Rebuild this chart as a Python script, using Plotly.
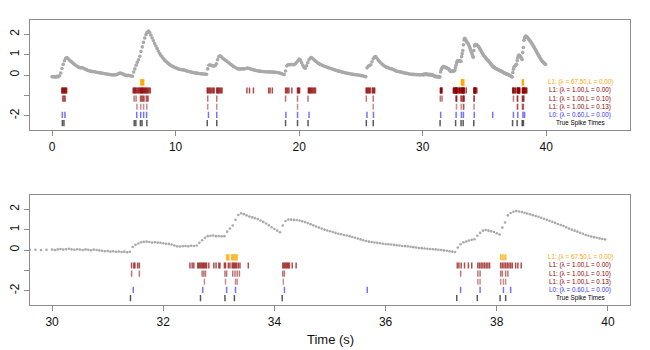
"""
Calcium trace with inferred spike rasters (full record and 30-40 s zoom).
"""
# Imports.
import plotly.graph_objects as go

# Data.
# Fluorescence trace, 0.0 - 29.9 s, one value every 0.1 s.
trace_slow = [
    -0.08, -0.10, -0.07, -0.11, -0.06, -0.09, -0.04, 0.10, 0.32, 0.52,
    0.70, 0.82, 0.86, 0.80, 0.74, 0.68, 0.63, 0.58, 0.53, 0.48,
    0.44, 0.40, 0.37, 0.35, 0.36, 0.34, 0.31, 0.28, 0.25, 0.22,
    0.21, 0.19, 0.18, 0.16, 0.17, 0.15, 0.13, 0.12, 0.11, 0.10,
    0.10, 0.08, 0.07, 0.06, 0.05, 0.04, 0.03, 0.02, 0.01, 0.00,
    0.01, 0.00, 0.02, 0.04, 0.07, 0.10, 0.08, 0.05, 0.03, 0.00,
    -0.02, -0.03, -0.02, -0.04, -0.05, -0.06, 0.15, 0.30, 0.48, 0.62,
    0.75, 0.92, 1.15, 1.38, 1.60, 1.82, 1.98, 2.10, 2.16, 2.08,
    1.95, 1.82, 1.68, 1.55, 1.42, 1.30, 1.18, 1.07, 0.97, 0.89,
    0.81, 0.74, 0.68, 0.62, 0.57, 0.52, 0.48, 0.44, 0.41, 0.38,
    0.35, 0.33, 0.30, 0.28, 0.27, 0.26, 0.25, 0.24, 0.22, 0.20,
    0.18, 0.17, 0.15, 0.14, 0.12, 0.11, 0.10, 0.09, 0.08, 0.07,
    0.06, 0.06, 0.05, 0.05, 0.04, 0.04, 0.30, 0.48, 0.50, 0.47,
    0.45, 0.44, 0.46, 0.55, 0.75, 0.90, 0.94, 0.89, 0.83, 0.78,
    0.74, 0.70, 0.65, 0.60, 0.55, 0.50, 0.46, 0.42, 0.38, 0.34,
    0.31, 0.30, 0.29, 0.30, 0.31, 0.30, 0.31, 0.32, 0.34, 0.33,
    0.31, 0.29, 0.27, 0.25, 0.24, 0.22, 0.21, 0.20, 0.19, 0.18,
    0.17, 0.17, 0.16, 0.16, 0.15, 0.15, 0.16, 0.15, 0.14, 0.14,
    0.13, 0.13, 0.12, 0.11, 0.10, 0.08, 0.06, 0.04, 0.02, 0.20,
    0.45, 0.50, 0.51, 0.50, 0.52, 0.50, 0.51, 0.55, 0.62, 0.70,
    0.78, 0.72, 0.60, 0.48, 0.37, 0.33, 0.45, 0.60, 0.75, 0.83,
    0.86, 0.81, 0.75, 0.70, 0.65, 0.60, 0.56, 0.52, 0.50, 0.47,
    0.44, 0.42, 0.40, 0.37, 0.35, 0.33, 0.31, 0.29, 0.27, 0.25,
    0.22, 0.21, 0.19, 0.18, 0.16, 0.14, 0.13, 0.11, 0.10, 0.08,
    0.07, 0.06, 0.05, 0.04, 0.03, 0.02, 0.01, 0.00, 0.00, -0.01,
    -0.03, -0.04, -0.05, -0.07, -0.08, 0.35, 0.44, 0.47, 0.50, 0.65,
    0.80, 0.88, 0.90, 0.82, 0.74, 0.67, 0.60, 0.54, 0.49, 0.44,
    0.40, 0.38, 0.36, 0.33, 0.31, 0.30, 0.27, 0.24, 0.21, 0.19,
    0.17, 0.16, 0.15, 0.14, 0.12, 0.10, 0.09, 0.08, 0.07, 0.05,
    0.04, 0.04, 0.03, 0.03, 0.02, 0.02, 0.01, 0.01, 0.00, 0.01,
]

# Fluorescence trace, 30.00 - 39.95 s, one value every 0.05 s.
trace_fast = [
    0.02, 0.00, 0.03, 0.05, 0.02, 0.04, 0.06, 0.03, 0.01, 0.04,
    0.02, 0.00, 0.03, 0.01, -0.01, 0.02, 0.00, -0.02, -0.04, -0.06,
    -0.05, -0.08, -0.06, -0.09, -0.07, -0.10, -0.08, -0.11, -0.09, 0.15,
    0.25, 0.32, 0.38, 0.40, 0.41, 0.39, 0.37, 0.38, 0.36, 0.35,
    0.33, 0.31, 0.30, 0.27, 0.22, 0.18, 0.17, 0.19, 0.20, 0.18,
    0.21, 0.20, 0.22, 0.35, 0.48, 0.60, 0.68, 0.70, 0.71, 0.68,
    0.69, 0.67, 0.68, 0.90, 1.05, 1.20, 1.48, 1.72, 1.80, 1.76,
    1.70, 1.64, 1.60, 1.56, 1.52, 1.45, 1.38, 1.30, 1.21, 1.12,
    1.03, 0.95, 0.87, 1.20, 1.42, 1.50, 1.49, 1.48, 1.47, 1.45,
    1.41, 1.37, 1.32, 1.27, 1.21, 1.15, 1.10, 1.05, 1.00, 0.96,
    0.92, 0.88, 0.84, 0.80, 0.77, 0.74, 0.71, 0.68, 0.64, 0.60,
    0.56, 0.52, 0.48, 0.44, 0.41, 0.39, 0.37, 0.35, 0.33, 0.31,
    0.29, 0.28, 0.27, 0.25, 0.23, 0.22, 0.20, 0.19, 0.18, 0.16,
    0.14, 0.12, 0.10, 0.09, 0.07, 0.06, 0.05, 0.04, 0.03, 0.01,
    0.00, -0.02, -0.04, -0.06, -0.08, -0.10, 0.12, 0.28, 0.38, 0.42,
    0.47, 0.50, 0.53, 0.70, 0.84, 0.95, 0.98, 0.95, 0.92, 0.88,
    0.82, 0.76, 1.10, 1.35, 1.70, 1.82, 1.88, 1.91, 1.89, 1.86,
    1.83, 1.79, 1.75, 1.71, 1.67, 1.63, 1.58, 1.53, 1.48, 1.43,
    1.38, 1.33, 1.28, 1.23, 1.18, 1.12, 1.05, 1.00, 0.95, 0.90,
    0.85, 0.80, 0.74, 0.70, 0.66, 0.63, 0.60, 0.57, 0.54, 0.52,
]

# Estimated spike times (s).
spikes_l1_lam67 = [7.18, 7.22, 7.26, 7.30, 7.34, 7.38, 7.42,
                   33.14, 33.16, 33.18, 33.23, 33.25, 33.27, 33.29, 33.31, 33.33,
                   38.07, 38.10, 38.13, 38.16]
spikes_l1_l000 = [0.78, 0.83, 0.88, 0.93, 0.98, 1.03, 1.08, 1.13, 1.18,
                  6.56, 6.62, 6.68, 6.74, 6.80, 6.88, 6.95, 7.02, 7.10, 7.15, 7.20, 7.25,
                  7.30, 7.35, 7.40, 7.46, 7.52, 7.58, 7.64, 7.70, 7.78, 7.86, 7.95,
                  12.56, 12.62, 12.70, 12.78, 12.86, 12.95, 13.05, 13.12,
                  13.32, 13.38, 13.45, 13.52, 13.60, 13.68, 13.76,
                  15.77, 15.98, 16.30, 17.53, 17.65, 17.83,
                  18.90, 18.98, 19.08, 19.18, 19.41, 19.86, 19.92, 19.98, 20.04,
                  20.74, 20.80, 20.86, 20.93, 21.00, 21.08, 21.16, 21.25, 21.33,
                  25.42, 25.48, 25.55, 25.62, 25.70, 25.76, 25.92, 25.98, 26.05, 26.12,
                  31.43, 31.47, 31.49, 31.54, 31.57,
                  32.48, 32.52, 32.55, 32.62, 32.64, 32.66, 32.68, 32.70, 32.72, 32.74,
                  32.76, 32.78, 32.82, 32.91, 32.95, 33.00, 33.02, 33.10, 33.12, 33.17,
                  33.20, 33.24, 33.26, 33.28, 33.30, 33.32, 33.35, 33.38, 33.53,
                  34.15, 34.17, 34.19, 34.21, 34.23, 34.25, 34.27, 34.32, 34.39,
                  37.29, 37.32, 37.36, 37.42, 37.49, 37.55, 37.66, 37.69, 37.72, 37.75,
                  37.78, 37.81, 37.84, 37.87,
                  38.07, 38.10, 38.13, 38.16, 38.19, 38.22, 38.25, 38.28, 38.34, 38.38, 38.44]
spikes_l1_l010 = [0.85, 0.92, 1.00, 1.07, 6.64, 6.80, 7.15, 7.22, 7.30, 7.38, 7.45,
                  7.62, 7.70, 7.78, 12.60, 13.33, 18.90, 19.87, 20.72, 25.44, 26.00,
                  31.43, 31.57, 32.70, 32.73, 32.76, 33.11, 33.14, 33.25, 33.29, 33.33,
                  33.37, 34.15, 34.18, 37.35, 37.66, 37.70, 38.07, 38.10, 38.16, 38.20]
spikes_l1_l013 = [6.87, 7.18, 7.41, 7.67, 12.60, 13.33, 19.87, 26.00, 32.74, 33.12,
                  33.30, 33.33, 34.16, 37.66, 37.70, 38.07, 38.12, 38.16]
spikes_l0 = [0.83, 1.04, 6.85, 7.17, 7.41, 7.65, 12.66, 13.33, 18.93, 19.87, 20.80,
             25.49, 26.02, 31.46, 32.71, 33.14, 33.30, 34.18, 35.67, 37.35, 37.70,
             38.12, 38.25]
spikes_true = [0.83, 0.96, 6.65, 6.78, 7.15, 7.28, 7.67, 12.56, 13.33, 18.90, 19.87,
               20.72, 25.44, 26.00, 31.41, 32.67, 33.11, 33.28, 34.14, 37.28, 37.65,
               38.06, 38.16]

row_labels = ['L1: (\u03bb = 67.50,L = 0.00)', 'L1: (\u03bb = 1.00,L = 0.00)',
              'L1: (\u03bb = 1.00,L = 0.10)', 'L1: (\u03bb = 1.00,L = 0.13)',
              'L0: (\u03bb = 0.60,L = 0.00)', 'True Spike Times']

# Times of the trace samples.
times = [i / 10 for i in range(len(trace_slow))] + [30 + i / 20 for i in range(len(trace_fast))]
values = trace_slow + trace_fast

# Styles for each raster row.
rows = [(spikes_l1_lam67, 'rgba(255,165,0,0.75)', '#FFA500'),
        (spikes_l1_l000, 'rgba(139,0,0,0.7)', '#8B0000'),
        (spikes_l1_l010, 'rgba(139,0,0,0.55)', '#8B0000'),
        (spikes_l1_l013, 'rgba(139,0,0,0.45)', '#8B0000'),
        (spikes_l0, 'rgba(0,0,255,0.55)', '#3333FF'),
        (spikes_true, 'rgba(0,0,0,0.65)', '#000000')]
row_y = [-0.36, -0.76, -1.16, -1.56, -1.96, -2.36]
half = 0.15

# Page geometry: the browser body adds an 8 px margin round the figure.
OFF, W, H = 8, 642, 342


def px_x(p):
    """Window pixel column -> paper fraction."""
    return (p - OFF) / W


def px_y(p):
    """Window pixel row -> paper fraction."""
    return 1 - (p - OFF) / H


def raster(spikes, y0):
    """Vertical tick segments for a list of spike times."""
    xs, ys = [], []
    for s in spikes:
        xs += [s, s, None]
        ys += [y0 - half, y0 + half, None]
    return xs, ys


# Create figure.
fig = go.Figure()
for ax, size in (('', 3.6), ('2', 2.6)):
    fig.add_trace(go.Scatter(x=times, y=values, mode='markers', xaxis='x' + ax, yaxis='y' + ax,
                             marker=dict(size=size, color='#A9A9A9'), hoverinfo='skip'))
    for (spikes, color, _), y0 in zip(rows, row_y):
        xs, ys = raster(spikes, y0)
        fig.add_trace(go.Scatter(x=xs, y=ys, mode='lines', xaxis='x' + ax, yaxis='y' + ax,
                                 line=dict(color=color, width=1.5), hoverinfo='skip'))

# Axes.
xdom = [px_x(25), px_x(630)]
axis_style = dict(showline=True, mirror=True, linecolor='#8c8c8c', linewidth=1.2, ticks='outside',
                  ticklen=5, tickcolor='#8c8c8c', showgrid=False, zeroline=False,
                  tickfont=dict(size=12, color='#111'))
yticks = dict(tickvals=[-2, -1, 0, 1, 2], ticktext=['-2', '', '0', '1', '2'], tickangle=-90)
fig.update_layout(
    width=W, height=H, margin=dict(l=0, r=0, t=0, b=0), showlegend=False,
    plot_bgcolor='white', paper_bgcolor='white', font=dict(family='Liberation Sans'),
    xaxis=dict(domain=xdom, range=[-1.8, 46.8], tickvals=[0, 10, 20, 30, 40], anchor='y', **axis_style),
    yaxis=dict(domain=[px_y(130), px_y(20)], range=[-2.7, 2.7], anchor='x', **yticks, **axis_style),
    xaxis2=dict(domain=xdom, range=[29.6, 40.4], tickvals=[30, 32, 34, 36, 38, 40], anchor='y2',
                **axis_style),
    yaxis2=dict(domain=[px_y(305), px_y(195)], range=[-2.7, 2.7], anchor='x2', **yticks,
                **axis_style),
)

# Row labels.
for ax in ('', '2'):
    for label, (_, _, tcolor), y0 in zip(row_labels, rows, row_y):
        fig.add_annotation(text=label, x=0.917, xref='x' + ax + ' domain', y=y0, yref='y' + ax,
                           xanchor='center', yanchor='middle', showarrow=False,
                           font=dict(size=6.3, color=tcolor))

fig.add_annotation(text='Time (s)', x=px_x(327.5), y=px_y(339), xref='paper', yref='paper',
                   xanchor='center', yanchor='middle', showarrow=False, font=dict(size=13, color='#111'))

fig.write_html('out.html')
